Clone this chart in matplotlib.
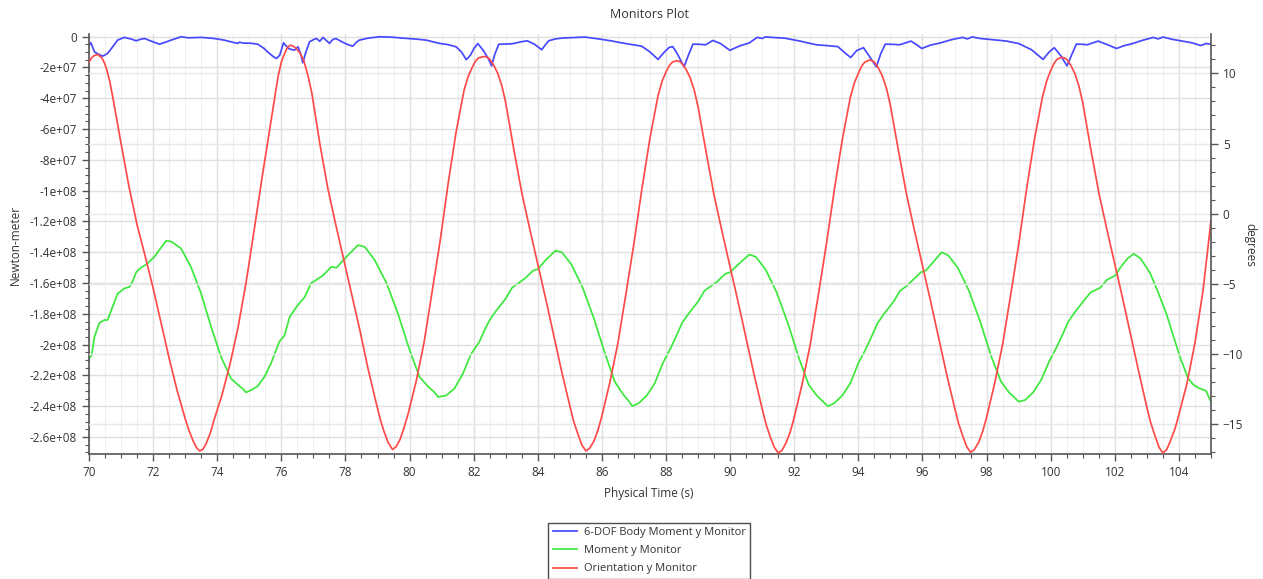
import numpy as np
import matplotlib
matplotlib.use("Agg")
import matplotlib.pyplot as plt
from matplotlib.ticker import FixedLocator, MultipleLocator, FixedFormatter

plt.rcParams['font.family'] = ['Open Sans', 'DejaVu Sans']

# ---------------- data ----------------
# 6-DOF Body Moment y Monitor (units of 1e8 N*m)
body_t = [70.00, 70.06, 70.17, 70.30, 70.43, 70.58, 70.65, 70.74, 70.89, 71.10, 71.30, 71.47, 71.60, 71.73,
          71.95, 72.20, 72.40, 72.56, 72.87, 73.10, 73.50, 73.90, 74.22, 74.45, 74.64, 74.70, 74.80, 75.05,
          75.26, 75.45, 75.57, 75.75, 75.85, 75.95, 76.07, 76.15, 76.25, 76.41, 76.52, 76.60, 76.67, 76.75,
          76.88, 77.00, 77.09, 77.20, 77.30, 77.40, 77.50, 77.60, 77.70, 77.90, 78.05, 78.23, 78.35, 78.43,
          78.70, 79.07, 79.40, 79.80, 80.20, 80.52, 80.75, 80.93, 81.20, 81.45, 81.62, 81.77, 81.90, 82.00,
          82.13, 82.30, 82.45, 82.56, 82.65, 82.78, 83.00, 83.22, 83.45, 83.67, 83.90, 84.12, 84.25, 84.34,
          84.55, 84.79, 85.10, 85.47, 85.90, 86.30, 86.57, 86.90, 87.24, 87.50, 87.75, 87.95, 88.10, 88.21,
          88.35, 88.56, 88.70, 88.84, 89.05, 89.24, 89.46, 89.70, 89.99, 90.30, 90.60, 90.84, 91.00, 91.10,
          91.30, 91.70, 92.20, 92.69, 93.00, 93.36, 93.55, 93.76, 93.95, 94.16, 94.35, 94.56, 94.70, 94.84,
          95.05, 95.29, 95.64, 95.80, 95.98, 96.25, 96.56, 96.90, 97.25, 97.40, 97.55, 97.80, 98.20, 98.62,
          99.00, 99.40, 99.76, 99.95, 100.11, 100.30, 100.51, 100.65, 100.80, 101.00, 101.14, 101.48, 101.80,
          102.05, 102.30, 102.51, 102.85, 103.20, 103.35, 103.50, 103.80, 104.11, 104.40, 104.68, 104.85, 104.97]
body_v = [-0.055, -0.040, -0.099, -0.115, -0.127, -0.109, -0.090, -0.066, -0.023, -0.005, -0.015, -0.027, -0.018, -0.012,
          -0.030, -0.049, -0.035, -0.023, -0.001, -0.008, -0.005, -0.012, -0.023, -0.035, -0.044, -0.036, -0.042, -0.043,
          -0.049, -0.075, -0.099, -0.130, -0.142, -0.120, -0.040, -0.060, -0.080, -0.088, -0.066, -0.110, -0.170, -0.110,
          -0.034, -0.020, -0.012, -0.030, -0.005, -0.025, -0.044, -0.020, -0.012, -0.035, -0.050, -0.062, -0.035, -0.023,
          -0.010, -0.001, -0.003, -0.010, -0.016, -0.023, -0.035, -0.044, -0.052, -0.066, -0.100, -0.150, -0.120, -0.080,
          -0.045, -0.090, -0.140, -0.190, -0.120, -0.050, -0.048, -0.046, -0.035, -0.027, -0.050, -0.085, -0.050, -0.027,
          -0.015, -0.009, -0.006, -0.003, -0.015, -0.028, -0.039, -0.050, -0.062, -0.100, -0.148, -0.100, -0.070, -0.065,
          -0.110, -0.196, -0.120, -0.049, -0.050, -0.053, -0.025, -0.045, -0.089, -0.060, -0.041, -0.005, -0.012, -0.002,
          -0.005, -0.010, -0.030, -0.053, -0.058, -0.065, -0.100, -0.136, -0.090, -0.072, -0.130, -0.196, -0.110, -0.049,
          -0.050, -0.053, -0.029, -0.050, -0.077, -0.055, -0.041, -0.020, -0.005, -0.015, -0.002, -0.012, -0.020, -0.029,
          -0.045, -0.085, -0.148, -0.100, -0.072, -0.120, -0.190, -0.120, -0.049, -0.050, -0.053, -0.029, -0.055,
          -0.077, -0.058, -0.048, -0.025, -0.005, -0.015, -0.003, -0.018, -0.029, -0.040, -0.058, -0.045, -0.049]

# Moment y Monitor (units of 1e8 N*m)
moment_t = [70.00, 70.08, 70.17, 70.32, 70.48, 70.58, 70.69, 70.89, 71.10, 71.26, 71.36, 71.47, 71.62, 71.78,
            72.04, 72.40, 72.56, 72.87, 73.18, 73.50, 73.81, 74.12, 74.43, 74.64, 74.79, 74.90, 75.06, 75.26,
            75.47, 75.68, 75.94, 76.10, 76.26, 76.47, 76.57, 76.73, 76.93, 77.09, 77.30, 77.56, 77.72, 78.03,
            78.39, 78.60, 78.91, 79.28, 79.64, 80.00, 80.31, 80.57, 80.78, 80.89,
            81.14, 81.40, 81.66, 81.92, 82.18, 82.35, 82.50, 82.70, 82.85, 83.00, 83.20, 83.40, 83.60, 83.85,
            84.00, 84.25, 84.55, 84.75, 85.05, 85.40, 85.75, 86.10, 86.40, 86.65, 86.85, 86.95,
            87.15, 87.40, 87.65, 87.90, 88.15, 88.35, 88.50, 88.70, 88.85, 89.00, 89.20, 89.40, 89.60, 89.85,
            90.00, 90.30, 90.60, 90.80, 91.10, 91.45, 91.80, 92.15, 92.45, 92.70, 92.90, 93.05,
            93.25, 93.50, 93.75, 94.00, 94.25, 94.45, 94.60, 94.80, 94.95, 95.10, 95.30, 95.50, 95.70, 95.95,
            96.10, 96.35, 96.60, 96.80, 97.10, 97.45, 97.80, 98.15, 98.45, 98.70, 98.90, 99.00,
            99.20, 99.45, 99.70, 99.95, 100.20, 100.40, 100.55, 100.75, 100.90, 101.05, 101.25, 101.55, 101.75,
            102.02, 102.17, 102.40, 102.59, 102.80, 103.10, 103.35, 103.61, 104.03, 104.29, 104.45, 104.60,
            104.85, 104.93, 105.00]
moment_v = [-2.09, -2.07, -1.95, -1.86, -1.84, -1.84, -1.78, -1.67, -1.635, -1.625, -1.59, -1.53, -1.50, -1.48,
            -1.43, -1.326, -1.33, -1.375, -1.495, -1.67, -1.885, -2.08, -2.22, -2.26, -2.285, -2.31, -2.295, -2.27,
            -2.21, -2.12, -1.98, -1.94, -1.82, -1.755, -1.73, -1.69, -1.60, -1.58, -1.55, -1.495, -1.50, -1.43,
            -1.354, -1.365, -1.45, -1.60, -1.80, -2.035, -2.21, -2.27, -2.31, -2.34,
            -2.33, -2.285, -2.19, -2.06, -1.98, -1.90, -1.84, -1.78, -1.74, -1.70, -1.63, -1.60, -1.57, -1.52,
            -1.51, -1.45, -1.39, -1.40, -1.48, -1.63, -1.83, -2.06, -2.24, -2.32, -2.37, -2.40,
            -2.38, -2.33, -2.25, -2.12, -2.02, -1.93, -1.86, -1.80, -1.76, -1.72, -1.65, -1.62, -1.59, -1.54,
            -1.53, -1.47, -1.415, -1.43, -1.51, -1.66, -1.86, -2.09, -2.26, -2.33, -2.37, -2.40,
            -2.38, -2.33, -2.25, -2.12, -2.02, -1.93, -1.86, -1.80, -1.76, -1.72, -1.65, -1.62, -1.58, -1.53,
            -1.52, -1.46, -1.40, -1.42, -1.50, -1.65, -1.85, -2.08, -2.24, -2.31, -2.35, -2.37,
            -2.36, -2.31, -2.23, -2.11, -2.01, -1.92, -1.85, -1.79, -1.75, -1.71, -1.66, -1.63, -1.58,
            -1.55, -1.50, -1.44, -1.41, -1.44, -1.535, -1.66, -1.80, -2.08, -2.22, -2.26, -2.28,
            -2.30, -2.34, -2.37]

# Orientation y Monitor (degrees)
orient_t = [70.00, 70.08, 70.15, 70.27, 70.40, 70.48, 70.55, 70.65, 70.75, 71.00, 71.25, 71.50, 71.75, 72.00,
            72.25, 72.50, 72.75, 73.00, 73.12, 73.25, 73.35, 73.45, 73.55, 73.65, 73.78, 73.90, 74.15, 74.40,
            74.65, 74.90, 75.15, 75.40, 75.65, 75.90, 76.00, 76.10, 76.18, 76.27, 76.36, 76.45, 76.58, 76.70,
            76.83, 76.95, 77.20, 77.45, 77.70, 77.95, 78.20, 78.45, 78.70, 78.95, 79.08, 79.20, 79.33, 79.47,
            79.58, 79.70, 79.82, 79.95, 80.20, 80.45, 80.70, 80.95, 81.20, 81.45, 81.70, 81.83, 81.95, 82.05,
            82.15, 82.33, 82.42, 82.50, 82.62, 82.75, 82.88, 83.00, 83.25, 83.50, 83.75, 84.00, 84.25, 84.50,
            84.75, 85.00, 85.12, 85.25, 85.38, 85.50, 85.62, 85.75, 85.88, 86.00, 86.25, 86.50, 86.75, 87.00,
            87.25, 87.50, 87.75, 87.88, 88.00, 88.10, 88.20, 88.33, 88.42, 88.50, 88.62, 88.75, 88.88, 89.00,
            89.25, 89.50, 89.75, 90.00, 90.25, 90.50, 90.75, 91.00, 91.12, 91.25, 91.38, 91.50, 91.62, 91.75,
            91.88, 92.00, 92.25, 92.50, 92.75, 93.00, 93.25, 93.50, 93.75, 93.88, 94.00, 94.10, 94.20, 94.35,
            94.42, 94.50, 94.62, 94.75, 94.88, 95.00, 95.25, 95.50, 95.75, 96.00, 96.25, 96.50, 96.75, 97.00,
            97.12, 97.25, 97.38, 97.50, 97.62, 97.75, 97.88, 98.00, 98.25, 98.50, 98.75, 99.00, 99.25, 99.50,
            99.75, 99.88, 100.00, 100.10, 100.20, 100.35, 100.42, 100.50, 100.62, 100.75, 100.88, 101.00, 101.25,
            101.50, 101.75, 102.00, 102.25, 102.50, 102.75, 103.00, 103.12, 103.25, 103.38, 103.50, 103.62,
            103.75, 103.88, 104.00, 104.25, 104.50, 104.75, 105.00]
orient_v = [10.8, 11.1, 11.25, 11.35, 11.1, 10.75, 10.3, 9.4, 8.2, 5.0, 1.9, -0.8, -3.0, -5.3,
            -7.8, -10.3, -12.6, -14.6, -15.45, -16.2, -16.65, -16.9, -16.8, -16.4, -15.65, -14.7, -12.9, -10.7,
            -8.1, -4.9, -1.2, 2.6, 6.2, 9.8, 10.8, 11.4, 11.8, 12.0, 11.95, 11.8, 11.45, 10.9,
            9.85, 8.6, 5.0, 1.8, -0.8, -3.3, -5.8, -8.3, -11.0, -13.4, -14.6, -15.5, -16.3, -16.8,
            -16.6, -16.1, -15.3, -14.3, -12.0, -9.2, -5.6, -2.0, 2.1, 5.8, 8.8, 9.8, 10.4, 10.85,
            11.1, 11.2, 11.15, 11.0, 10.6, 10.0, 9.1, 7.9, 4.6, 1.5, -1.1, -3.6, -6.1, -8.7,
            -11.3, -13.7, -14.8, -15.7, -16.5, -16.9, -16.7, -16.2, -15.4, -14.4, -12.0, -9.2, -5.7, -2.1,
            1.8, 5.4, 8.4, 9.45, 10.1, 10.55, 10.8, 10.9, 10.85, 10.7, 10.3, 9.7, 8.8, 7.6,
            4.4, 1.3, -1.3, -3.8, -6.3, -8.9, -11.5, -13.9, -15.0, -15.9, -16.65, -17.05, -16.85, -16.3,
            -15.5, -14.5, -12.1, -9.3, -5.8, -2.2, 1.7, 5.3, 8.3, 9.35, 10.0, 10.5, 10.8, 10.95,
            10.9, 10.8, 10.4, 9.8, 8.9, 7.7, 4.5, 1.4, -1.2, -3.7, -6.2, -8.8, -11.4, -13.8,
            -14.9, -15.8, -16.6, -17.0, -16.8, -16.3, -15.5, -14.5, -12.1, -9.3, -5.8, -2.2, 1.8, 5.4,
            8.4, 9.5, 10.2, 10.7, 11.0, 11.15, 11.1, 11.0, 10.6, 10.0, 9.1, 7.9, 4.6,
            1.5, -1.1, -3.6, -6.1, -8.7, -11.3, -13.8, -14.9, -15.8, -16.65, -17.05, -16.8,
            -16.1, -15.3, -14.3, -12.1, -9.2, -5.5, -0.5]

left_ticks = [0, -2e7, -4e7, -6e7, -8e7, -1e8, -1.2e8, -1.4e8, -1.6e8, -1.8e8, -2e8, -2.2e8, -2.4e8, -2.6e8]
left_labels = ['0', '-2e+07', '-4e+07', '-6e+07', '-8e+07', '-1e+08', '-1.2e+08', '-1.4e+08', '-1.6e+08',
               '-1.8e+08', '-2e+08', '-2.2e+08', '-2.4e+08', '-2.6e+08']
right_ticks = [10, 5, 0, -5, -10, -15]
x_ticks = [70, 72, 74, 76, 78, 80, 82, 84, 86, 88, 90, 92, 94, 96, 98, 100, 102, 104]

# ---------------- figure ----------------
fig = plt.figure(figsize=(12.63, 5.79), dpi=100)
ax = fig.add_axes([89 / 1263, 1 - 454 / 579, (1211 - 89) / 1263, (454 - 34.3) / 579])
ax2 = ax.twinx()

tc = '#333333'
fs = 8.5

l1, = ax.plot(body_t, np.array(body_v) * 1e8, color='#4848ff', lw=1.25, label='6-DOF Body Moment y Monitor')
l2, = ax.plot(moment_t, np.array(moment_v) * 1e8, color='#3de83d', lw=1.25, label='Moment y Monitor')
l3, = ax2.plot(orient_t, orient_v, color='#ff4a4a', lw=1.25, label='Orientation y Monitor')

ax.set_xlim(70, 105)
ax.set_ylim(-2.71e8, 1.5e6)
ax2.set_ylim(-17.12, 12.78)

ax.xaxis.set_major_locator(FixedLocator(x_ticks))
ax.xaxis.set_minor_locator(MultipleLocator(0.5))
ax.yaxis.set_major_locator(FixedLocator(left_ticks))
ax.yaxis.set_major_formatter(FixedFormatter(left_labels))
ax.yaxis.set_minor_locator(MultipleLocator(5e6))
ax2.yaxis.set_major_locator(FixedLocator(right_ticks))
ax2.yaxis.set_minor_locator(MultipleLocator(1))

ax.grid(which='major', color='#e0e0e0', lw=1.0)
ax.grid(which='minor', axis='x', color='#f0f0f0', lw=0.8)
ax2.grid(which='major', axis='y', color='#e8e8e8', lw=1.0)
ax.set_axisbelow(True)
ax2.set_axisbelow(True)

for a in (ax, ax2):
    a.tick_params(which='major', direction='out', length=5, width=1, colors='#555555',
                  labelsize=fs, labelcolor=tc)
    a.tick_params(which='minor', direction='out', length=3, width=0.8, colors='#555555')
    a.spines['top'].set_visible(False)
    for s in ('left', 'right', 'bottom'):
        a.spines[s].set_color('#555555')
        a.spines[s].set_linewidth(1.2)
ax.spines['right'].set_visible(False)
ax2.spines['left'].set_visible(False)
ax2.spines['bottom'].set_visible(False)

fig.text(649 / 1263, 1 - 15 / 579, 'Monitors Plot', ha='center', va='center', fontsize=9, color=tc)
fig.text(649 / 1263, 1 - 494 / 579, 'Physical Time (s)', ha='center', va='center', fontsize=8.5, color=tc)
fig.text(15 / 1263, 1 - 245 / 579, 'Newton-meter', ha='center', va='center', rotation=90, fontsize=8.5, color=tc)
fig.text(1250 / 1263, 1 - 245 / 579, 'degrees', ha='center', va='center', rotation=-90, fontsize=8.5, color=tc)

leg = fig.legend(handles=[l1, l2, l3], loc='upper center', bbox_to_anchor=(649 / 1263, 1 - 517 / 579),
                 fontsize=8, frameon=True, fancybox=False, edgecolor='#222222', handlelength=2.2,
                 labelspacing=0.65, borderpad=0.4, handletextpad=0.6)
leg.get_frame().set_linewidth(1.0)
for t in leg.get_texts():
    t.set_color(tc)

fig.savefig('out.png', dpi=100)
